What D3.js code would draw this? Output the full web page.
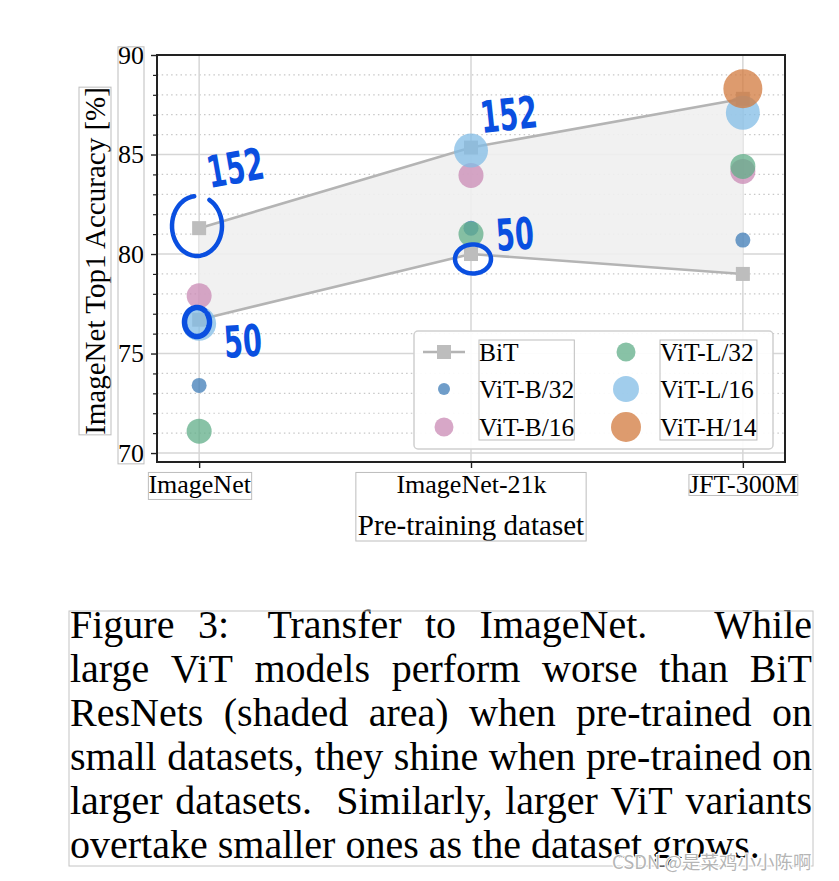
<!DOCTYPE html>
<html>
<head>
<meta charset="utf-8">
<script src="https://cdn.jsdelivr.net/npm/d3@7"></script>
<style>
html,body{margin:0;padding:0;background:#fff;}
svg{display:block;}
</style>
</head>
<body>
<script>
// ---------- data ----------
const categories = ["ImageNet", "ImageNet-21k", "JFT-300M"];
const bitUpper = [81.3, 85.35, 87.8];   // BiT ResNet-152
const bitLower = [76.7, 80.0, 79.0];    // BiT ResNet-50
const vitB32 = [73.4, 81.3, 80.7];
const vitB16 = [77.9, 83.95, 84.15];
const vitL32 = [71.1, 81.0, 84.4];
const vitL16 = [76.5, 85.2, 87.1];
const vitH14 = [null, null, 88.3];
const yMajorTicks = [70, 75, 80, 85, 90];
const yMinorTicks = [71, 72, 73, 74, 76, 77, 78, 79, 81, 82, 83, 84, 86, 87, 88, 89];
const seriesNames = ["ViT-B/32", "ViT-B/16", "ViT-L/32", "ViT-L/16", "ViT-H/14"];
const seriesValues = [vitB32, vitB16, vitL32, vitL16, vitH14];
const yLabel = "ImageNet Top1 Accuracy [%]";
const xLabel = "Pre-training dataset";
const captionLines = [
  "Figure 3:  Transfer to ImageNet.  While",
  "large ViT models perform worse than BiT",
  "ResNets (shaded area) when pre-trained on",
  "small datasets, they shine when pre-trained on",
  "larger datasets.  Similarly, larger ViT variants",
  "overtake smaller ones as the dataset grows."
];
const watermark = "CSDN @是菜鸡小小陈啊";
const annotations = ["152", "152", "50", "50"];

// ---------- styles ----------
const seriesColors = ["#3f7cb7", "#ca8ab4", "#60ae88", "#82bce6", "#d27a3e"];
const seriesRadius = [7.5, 12.5, 12.5, 17, 19.5];
const legendRadius = [6, 9.5, 9.5, 13, 15];
const W = 839, H = 881;
const plot = {left: 157, right: 785, top: 55, bottom: 462};
const serif = "'Liberation Serif','Times New Roman',serif";
const ink = "#0a4fe0";

const svg = d3.select("body").append("svg").attr("width", W).attr("height", H);

const x = d3.scaleLinear().domain([-0.155, 2.155]).range([plot.left, plot.right]);
const y = d3.scaleLinear().domain([69.55, 90]).range([plot.bottom, plot.top]);

// grid
const g = svg.append("g");
g.selectAll(".minor").data(yMinorTicks).join("line")
  .attr("x1", plot.left).attr("x2", plot.right)
  .attr("y1", d => y(d)).attr("y2", d => y(d))
  .attr("stroke", "#c8c8c8").attr("stroke-width", 1.2).attr("stroke-dasharray", "1.5,3.2");
g.selectAll(".major").data(yMajorTicks).join("line")
  .attr("x1", plot.left).attr("x2", plot.right)
  .attr("y1", d => y(d)).attr("y2", d => y(d))
  .attr("stroke", "#d6d6d6").attr("stroke-width", 1.5);
g.selectAll(".vgrid").data(categories).join("line")
  .attr("x1", (d, i) => x(i)).attr("x2", (d, i) => x(i))
  .attr("y1", plot.top).attr("y2", plot.bottom)
  .attr("stroke", "#d6d6d6").attr("stroke-width", 1.5);

// BiT shaded area
const idx = categories.map((d, i) => i);
svg.append("path")
  .datum(idx)
  .attr("d", d3.area().x(i => x(i)).y0(i => y(bitLower[i])).y1(i => y(bitUpper[i])))
  .attr("fill", "#f0f0f0").attr("fill-opacity", 0.9);
const bitLine = d3.line().x(d => x(d[0])).y(d => y(d[1]));
[bitUpper, bitLower].forEach(arr => {
  svg.append("path").datum(arr.map((v, i) => [i, v]))
    .attr("d", bitLine).attr("fill", "none")
    .attr("stroke", "#b4b4b4").attr("stroke-width", 2.6);
  svg.selectAll(null).data(arr.map((v, i) => [i, v])).join("rect")
    .attr("x", d => x(d[0]) - 7).attr("y", d => y(d[1]) - 7)
    .attr("width", 14).attr("height", 14).attr("fill", "#bdbdbd");
});

// ViT scatter
seriesValues.forEach((vals, s) => {
  svg.append("g").selectAll("circle")
    .data(vals.map((v, i) => [i, v]).filter(d => d[1] !== null))
    .join("circle")
    .attr("cx", d => x(d[0])).attr("cy", d => y(d[1]))
    .attr("r", seriesRadius[s])
    .attr("fill", seriesColors[s]).attr("fill-opacity", 0.75);
});

// spines
svg.append("rect").attr("x", plot.left).attr("y", plot.top)
  .attr("width", plot.right - plot.left).attr("height", plot.bottom - plot.top)
  .attr("fill", "none").attr("stroke", "#222").attr("stroke-width", 2);

// y axis
const yAxis = svg.append("g").attr("transform", `translate(${plot.left},0)`)
  .call(d3.axisLeft(y).tickValues(yMajorTicks).tickSize(6).tickPadding(6).tickFormat(d3.format("d")));
yAxis.select(".domain").remove();
yAxis.selectAll(".tick line").attr("stroke", "#222").attr("stroke-width", 1.4);
yAxis.selectAll("text").attr("font-family", serif).attr("font-size", 26).attr("fill", "#000")
  .attr("dy", "0.32em").attr("x", -13);
const yMinor = svg.append("g").attr("transform", `translate(${plot.left},0)`)
  .call(d3.axisLeft(y).tickValues(yMinorTicks).tickSize(4).tickFormat(""));
yMinor.select(".domain").remove();
yMinor.selectAll(".tick line").attr("stroke", "#222").attr("stroke-width", 1.2);

// x axis
const xAxis = svg.append("g").attr("transform", `translate(0,${plot.bottom})`)
  .call(d3.axisBottom(x).tickValues(idx).tickSize(6).tickPadding(8).tickFormat(i => categories[i]));
xAxis.select(".domain").remove();
xAxis.selectAll(".tick line").attr("stroke", "#222").attr("stroke-width", 1.4);
xAxis.selectAll("text").attr("font-family", serif).attr("font-size", 26).attr("fill", "#000")
  .attr("y", 13).attr("dy", "0.71em");

// labels
const yLab = svg.append("text").text(yLabel)
  .attr("font-family", serif).attr("font-size", 29)
  .attr("text-anchor", "middle")
  .attr("transform", `translate(105,${(82 + 440) / 2}) rotate(-90)`);
const xLab = svg.append("text").text(xLabel)
  .attr("font-family", serif).attr("font-size", 29)
  .attr("text-anchor", "middle").attr("x", x(1)).attr("y", 535);

// legend
const leg = svg.append("g");
leg.append("rect").attr("x", 414).attr("y", 331).attr("width", 359).attr("height", 118)
  .attr("rx", 4).attr("fill", "#fff").attr("fill-opacity", 0.92)
  .attr("stroke", "#d0d0d0").attr("stroke-width", 1.5);
const rowsY = [352, 389, 427];
const colMarkX = [444, 626], colTextX = [479, 660];
const legendItems = [{name: "BiT", bit: true}].concat(seriesNames.map((n, s) => ({name: n, s})));
const legTexts = [[], []];
legendItems.forEach((it, k) => {
  const col = Math.floor(k / 3), row = k % 3;
  const cy = rowsY[row];
  if (it.bit) {
    leg.append("line").attr("x1", colMarkX[col] - 21).attr("x2", colMarkX[col] + 21)
      .attr("y1", cy).attr("y2", cy).attr("stroke", "#b4b4b4").attr("stroke-width", 2.6);
    leg.append("rect").attr("x", colMarkX[col] - 7).attr("y", cy - 7)
      .attr("width", 14).attr("height", 14).attr("fill", "#bdbdbd");
  } else {
    leg.append("circle").attr("cx", colMarkX[col]).attr("cy", cy)
      .attr("r", legendRadius[it.s]).attr("fill", seriesColors[it.s]).attr("fill-opacity", 0.75);
  }
  const t = leg.append("text").text(it.name).attr("x", colTextX[col]).attr("y", cy + 9)
    .attr("font-family", serif).attr("font-size", 25.5).attr("fill", "#000");
  legTexts[col].push(t.node());
});

// thin gray text-selection boxes
function boxAround(nodes, pad) {
  let x0 = Infinity, y0 = Infinity, x1 = -Infinity, y1 = -Infinity;
  nodes.forEach(n => {
    const b = n.getBBox();
    const m = n.getCTM();
    const pts = [[b.x, b.y], [b.x + b.width, b.y], [b.x, b.y + b.height], [b.x + b.width, b.y + b.height]]
      .map(([px, py]) => [m.a * px + m.c * py + m.e, m.b * px + m.d * py + m.f]);
    pts.forEach(([px, py]) => { x0 = Math.min(x0, px); x1 = Math.max(x1, px); y0 = Math.min(y0, py); y1 = Math.max(y1, py); });
  });
  svg.append("rect").attr("x", x0 - pad[0]).attr("y", y0 + pad[1])
    .attr("width", x1 - x0 + 2 * pad[0]).attr("height", y1 - y0 - pad[1] - pad[2])
    .attr("fill", "none").attr("stroke", "#bdbdbd").attr("stroke-width", 1);
}
boxAround(yAxis.selectAll("text").nodes(), [0, 6, 4]);
boxAround([yLab.node()], [0, 0, 0]);
const xt = xAxis.selectAll("text").nodes();
boxAround([xt[0]], [0, 2, 0]);
boxAround([xt[1], xLab.node()], [2, 2, 0]);
boxAround([xt[2]], [0, 4, 4]);
boxAround(legTexts[0], [0, 2, 2]);
boxAround(legTexts[1], [0, 2, 2]);

// handwritten annotations
const ann = svg.append("g").attr("fill", ink).attr("font-family", "'DejaVu Sans',sans-serif")
  .attr("font-weight", "bold");
const annPos = [[210, 188, -10], [482, 133, -6], [497, 251, -4], [225, 358, -4]];
annotations.forEach((t, i) => {
  const [ax, ay, rot] = annPos[i];
  ann.append("text").text(t).attr("font-size", 44)
    .attr("transform", `translate(${ax},${ay}) rotate(${rot}) scale(0.62,1)`);
});
function ellipseArc(cx, cy, rx, ry, a0, a1) {
  const p = d3.path();
  const n = 48;
  for (let k = 0; k <= n; k++) {
    const a = a0 + (a1 - a0) * k / n;
    const px = cx + rx * Math.cos(a), py = cy + ry * Math.sin(a);
    if (k === 0) p.moveTo(px, py); else p.lineTo(px, py);
  }
  return p.toString();
}
const circ = svg.append("g").attr("fill", "none").attr("stroke", ink)
  .attr("stroke-width", 4.5).attr("stroke-linecap", "round").attr("stroke-linejoin", "round");
circ.append("path").attr("d", ellipseArc(197, 226, 25, 30, -1.05, 4.6));
circ.append("path").attr("d", ellipseArc(473, 259, 18, 14.5, -0.2, 2 * Math.PI - 0.35));
circ.append("path").attr("d", ellipseArc(197, 322, 12.5, 14.5, -0.6, 2 * Math.PI - 0.9)).attr("stroke-width", 5.5);

// caption (justified like TeX: sentence-ending gaps stretch more)
const capLeft = 70, capRight = 812, capTop = 638, capLead = 44, capSize = 40;
captionLines.forEach((line, li) => {
  const words = line.split(/\s+/);
  const yy = capTop + li * capLead;
  const nodes = words.map(w => svg.append("text").text(w)
    .attr("font-family", serif).attr("font-size", capSize).attr("y", yy).attr("fill", "#000"));
  const widths = nodes.map(n => n.node().getComputedTextLength());
  const total = d3.sum(widths);
  const last = li === captionLines.length - 1;
  const gaps = words.slice(0, -1).map(w => {
    if (/[.]$/.test(w)) return {nat: capSize * 0.33, wt: 4};
    if (/[:]$/.test(w)) return {nat: capSize * 0.29, wt: 2};
    return {nat: capSize * 0.25, wt: 1};
  });
  const natSum = d3.sum(gaps, d => d.nat), wtSum = d3.sum(gaps, d => d.wt);
  const extra = last ? 0 : (capRight - capLeft - total - natSum) / wtSum;
  let cx = capLeft;
  nodes.forEach((n, k) => {
    n.attr("x", cx);
    if (k < gaps.length) cx += widths[k] + gaps[k].nat + extra * gaps[k].wt;
  });
});
svg.append("rect").attr("x", 69).attr("y", 611).attr("width", 744).attr("height", 255)
  .attr("fill", "none").attr("stroke", "#c4c4c4").attr("stroke-width", 1);

// watermark
svg.append("text").text(watermark).attr("x", 612).attr("y", 869)
  .attr("font-family", "'Noto Sans CJK SC','Noto Sans',sans-serif").attr("font-size", 18.5)
  .attr("fill", "#a8a8a8").attr("fill-opacity", 0.85)
  .attr("stroke", "#fff").attr("stroke-width", 2).attr("paint-order", "stroke");
</script>
</body>
</html>
